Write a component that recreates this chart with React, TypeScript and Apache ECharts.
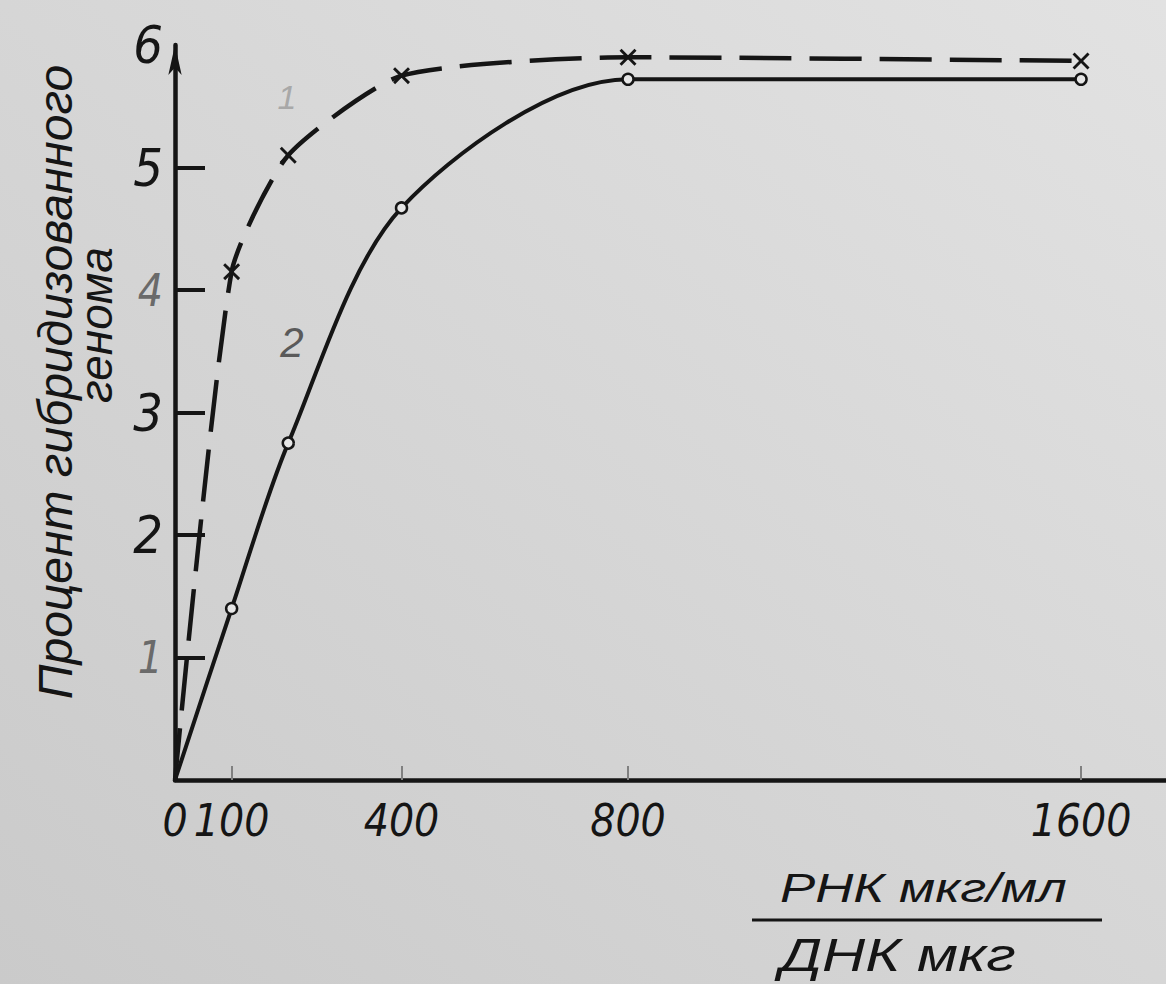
import React, { useEffect, useRef } from 'react';
import * as echarts from 'echarts';

// Axis ticks and labels
const ratioLabels = [0, 100, 400, 800, 1600];
const ratioTicks = [100, 400, 800, 1600];
const percentLabels = [1, 2, 3, 4, 5, 6];
const percentTicks = [1, 2, 3, 4, 5];
const fadedPercentLabels = [1, 4];

// Curve 1 (dashed, crosses)
const ratio1 = [0, 100, 200, 400, 800, 1600];
const hybrid1 = [0, 4.15, 5.1, 5.75, 5.9, 5.87];

// Curve 2 (solid, open circles)
const ratio2 = [0, 100, 200, 400, 800, 1600];
const hybrid2 = [0, 1.4, 2.75, 4.67, 5.72, 5.72];

// Titles and curve numbers
const yTitleLines = ['Процент гибридизованного', 'генома'];
const xTitleNumerator = 'РНК мкг/мл';
const xTitleDenominator = 'ДНК мкг';
const curveNames = ['1', '2'];

const INK = '#151515';
const NARROW = "'Liberation Sans Narrow', 'DejaVu Sans Condensed', 'Liberation Sans', sans-serif";
const SANS = "'Liberation Sans', 'DejaVu Sans', sans-serif";

const CROSS = 'path://M0,1.2L1.2,0L5,3.8L8.8,0L10,1.2L6.2,5L10,8.8L8.8,10L5,6.2L1.2,10L0,8.8L3.8,5Z';

function toPoints(xs: number[], ys: number[]) {
  return xs.map((x, i) => (i === 0 ? { value: [x, ys[i]], symbol: 'none' } : { value: [x, ys[i]] }));
}

export default function App() {
  const ref = useRef<HTMLDivElement>(null);

  useEffect(() => {
    if (!ref.current) return;
    const chart = echarts.init(ref.current, undefined, { renderer: 'svg' });

    const option: any = {
      animation: false,
      backgroundColor: {
        type: 'linear',
        x: 0,
        y: 1,
        x2: 1,
        y2: 0,
        colorStops: [
          { offset: 0, color: '#cacaca' },
          { offset: 1, color: '#e2e2e2' },
        ],
      },
      grid: { left: 175, right: 0, top: 45, bottom: 204 },
      xAxis: {
        type: 'value',
        min: 0,
        max: 1750,
        splitLine: { show: false },
        axisLine: { show: true, onZero: false, lineStyle: { color: INK, width: 4.5 } },
        axisTick: {
          show: true,
          inside: true,
          length: 14,
          customValues: ratioTicks,
          lineStyle: { color: '#808080', width: 2 },
        },
        axisLabel: {
          customValues: ratioLabels,
          showMinLabel: true,
          hideOverlap: false,
          formatter: (v: number) => String(v),
          margin: 18,
          color: INK,
          fontSize: 44,
          fontStyle: 'italic',
          fontFamily: NARROW,
        },
      },
      yAxis: {
        type: 'value',
        min: 0,
        max: 6,
        splitLine: { show: false },
        axisLine: {
          show: true,
          onZero: false,
          symbol: ['none', 'arrow'],
          symbolSize: [10, 30],
          lineStyle: { color: INK, width: 4.5 },
        },
        axisTick: {
          show: true,
          inside: true,
          length: 30,
          customValues: percentTicks,
          lineStyle: { color: INK, width: 4 },
        },
        axisLabel: {
          customValues: percentLabels,
          margin: 12,
          formatter: (v: number) => (fadedPercentLabels.includes(v) ? `{f|${v}}` : `{n|${v}}`),
          rich: {
            n: { color: INK, fontSize: 52, fontStyle: 'italic', fontFamily: NARROW },
            f: { color: '#6a6a6a', fontSize: 44, fontStyle: 'italic', fontFamily: NARROW },
          },
        },
      },
      series: [
        {
          type: 'line',
          name: curveNames[0],
          data: toPoints(ratio1, hybrid1),
          smooth: 0.2,
          symbol: CROSS,
          symbolSize: 17,
          itemStyle: { color: INK },
          lineStyle: { color: INK, width: 4.5, type: [52, 18] },
          z: 3,
        },
        {
          type: 'line',
          name: curveNames[1],
          data: toPoints(ratio2, hybrid2),
          smooth: 0.3,
          symbol: 'circle',
          symbolSize: 11,
          itemStyle: { color: '#e6e6e6', borderColor: INK, borderWidth: 2.5 },
          lineStyle: { color: INK, width: 4 },
          z: 4,
        },
      ],
      graphic: [
        {
          type: 'text',
          x: 55,
          y: 382,
          rotation: Math.PI / 2,
          style: {
            text: yTitleLines[0],
            fill: INK,
            font: `italic 48px ${SANS}`,
            textAlign: 'center',
            textVerticalAlign: 'middle',
          },
        },
        {
          type: 'text',
          x: 96,
          y: 325,
          rotation: Math.PI / 2,
          style: {
            text: yTitleLines[1],
            fill: INK,
            font: `italic 46px ${SANS}`,
            textAlign: 'center',
            textVerticalAlign: 'middle',
          },
        },
        {
          type: 'text',
          x: 287,
          y: 97,
          style: {
            text: curveNames[0],
            fill: '#a8a8a8',
            font: `italic 34px ${SANS}`,
            textAlign: 'center',
            textVerticalAlign: 'middle',
          },
        },
        {
          type: 'text',
          x: 292,
          y: 342,
          style: {
            text: curveNames[1],
            fill: '#5a5a5a',
            font: `italic 42px ${SANS}`,
            textAlign: 'center',
            textVerticalAlign: 'middle',
          },
        },
        {
          type: 'text',
          x: 780,
          y: 888,
          scaleX: 1.32,
          style: {
            text: xTitleNumerator,
            fill: INK,
            font: `italic 40px ${SANS}`,
            textAlign: 'left',
            textVerticalAlign: 'middle',
          },
        },
        {
          type: 'line',
          shape: { x1: 752, y1: 920, x2: 1102, y2: 920 },
          style: { stroke: INK, lineWidth: 3 },
        },
        {
          type: 'text',
          x: 780,
          y: 955,
          scaleX: 1.3,
          style: {
            text: xTitleDenominator,
            fill: INK,
            font: `italic 46px ${SANS}`,
            textAlign: 'left',
            textVerticalAlign: 'middle',
          },
        },
      ],
    };

    chart.setOption(option);
    return () => chart.dispose();
  }, []);

  return (
    <div
      ref={ref}
      style={{ position: 'fixed', left: 0, top: 0, width: 1166, height: 984 }}
    />
  );
}
